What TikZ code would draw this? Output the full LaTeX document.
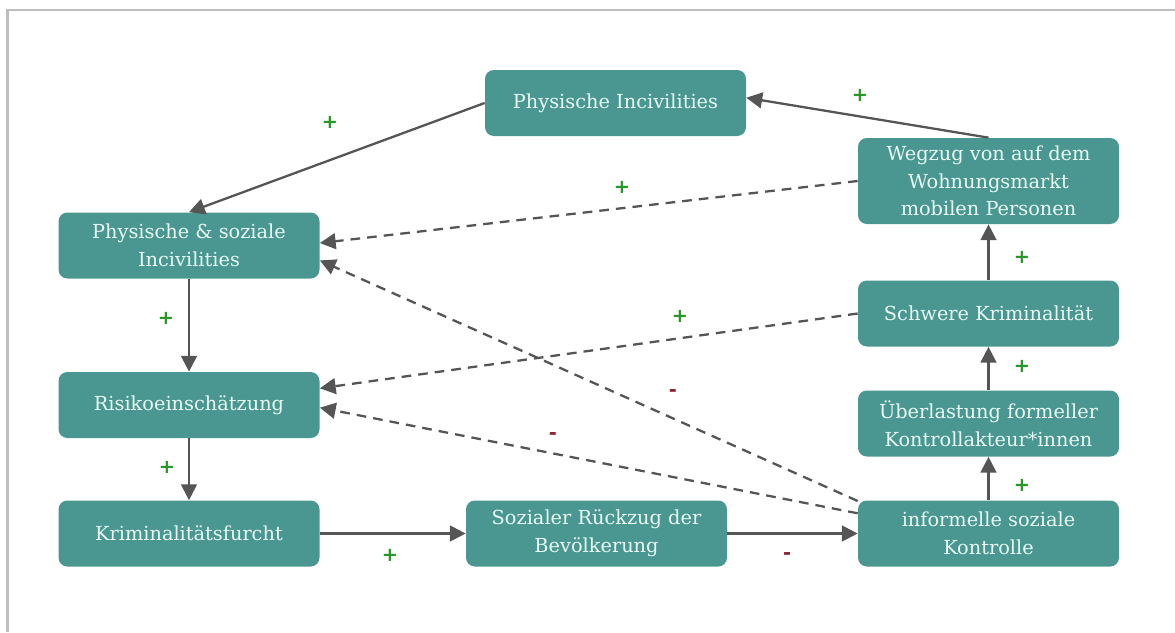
\documentclass[tikz,border=0pt]{standalone}
\usepackage{fontspec}
\setmainfont{DejaVu Serif}
\setsansfont{DejaVu Sans}
\usepackage{tikz}
\usetikzlibrary{arrows.meta}

\definecolor{boxteal}{RGB}{74,150,145}
\definecolor{boxtext}{RGB}{232,250,244}
\definecolor{linegray}{RGB}{85,85,85}
\definecolor{plusgreen}{RGB}{40,150,40}
\definecolor{minusred}{RGB}{140,30,45}
\definecolor{framegray}{RGB}{190,190,190}

\begin{document}
\begin{tikzpicture}[
        factor/.style={rectangle, rounded corners=5pt, fill=boxteal, text=boxtext,
            minimum width=5.22cm, minimum height=1.32cm, align=center,
            font=\fontsize{11}{15.8}\selectfont},
        arr/.style={draw=linegray, line width=1.3pt, -{Triangle[length=9pt,width=9pt]}},
        darr/.style={arr, dash pattern=on 5.5pt off 4pt},
        plussign/.style={text=plusgreen, font=\sffamily\bfseries\fontsize{11}{11}\selectfont},
        minussign/.style={text=minusred, font=\sffamily\bfseries\fontsize{11}{11}\selectfont}
    ]
        \useasboundingbox (0,0) rectangle (23.5,-12.64);
        % frame
        \draw[framegray, line width=1.2pt] (0.15,-12.64) -- (0.15,-0.2) -- (23.5,-0.2);

        % Define the factors
        \node[factor] (phys) at (12.31,-2.06) {Physische Incivilities};
        \node[factor] (physsoz) at (3.78,-4.91) {Physische \& soziale\\Incivilities};
        \node[factor] (risiko) at (3.78,-8.10) {Risikoeinschätzung};
        \node[factor] (furcht) at (3.78,-10.67) {Kriminalitätsfurcht};
        \node[factor] (rueckzug) at (11.93,-10.67) {Sozialer Rückzug der\\Bevölkerung};
        \node[factor] (kontrolle) at (19.77,-10.67) {informelle soziale\\Kontrolle};
        \node[factor] (ueberlast) at (19.77,-8.47) {Überlastung formeller\\Kontrollakteur*innen};
        \node[factor] (schwer) at (19.77,-6.27) {Schwere Kriminalität};
        \node[factor, minimum height=1.72cm] (wegzug) at (19.77,-3.62) {Wegzug von auf dem\\Wohnungsmarkt\\mobilen Personen};

        % Define the effects (solid)
        \draw[arr] (phys.west) -- (physsoz.north);
        \draw[arr] (wegzug.north) -- ([yshift=3pt]phys.east);
        \draw[arr] (physsoz) -- (risiko);
        \draw[arr] (risiko) -- (furcht);
        \draw[arr] (furcht) -- (rueckzug);
        \draw[arr] (rueckzug) -- (kontrolle);
        \draw[arr] (kontrolle) -- (ueberlast);
        \draw[arr] (ueberlast) -- (schwer);
        \draw[arr] (schwer) -- (wegzug);

        % Define the effects (dashed)
        \draw[darr] (wegzug.west) -- ([yshift=1.4pt]physsoz.east);
        \draw[darr] (schwer.west) -- ([yshift=9.5pt]risiko.east);
        \draw[darr] ([yshift=18.5pt]kontrolle.west) -- ([yshift=-8.5pt]physsoz.east);
        \draw[darr] ([yshift=11.5pt]kontrolle.west) -- ([yshift=-1.5pt]risiko.east);

        % Signs
        \node[plussign] (s1) at (6.60,-2.44) {+};
        \node[plussign] (s2) at (17.20,-1.90) {+};
        \node[plussign] (s3) at (12.44,-3.74) {+};
        \node[plussign] (s4) at (13.60,-6.32) {+};
        \node[minussign] (s5) at (13.46,-7.86) {-};
        \node[minussign] (s6) at (11.06,-8.72) {-};
        \node[plussign] (s7) at (3.32,-6.36) {+};
        \node[plussign] (s8) at (3.34,-9.34) {+};
        \node[plussign] (s9) at (7.80,-11.10) {+};
        \node[minussign] (s10) at (15.74,-11.12) {-};
        \node[plussign] (s11) at (20.44,-9.70) {+};
        \node[plussign] (s12) at (20.44,-7.32) {+};
        \node[plussign] (s13) at (20.44,-5.14) {+};

    \end{tikzpicture}
\end{document}
